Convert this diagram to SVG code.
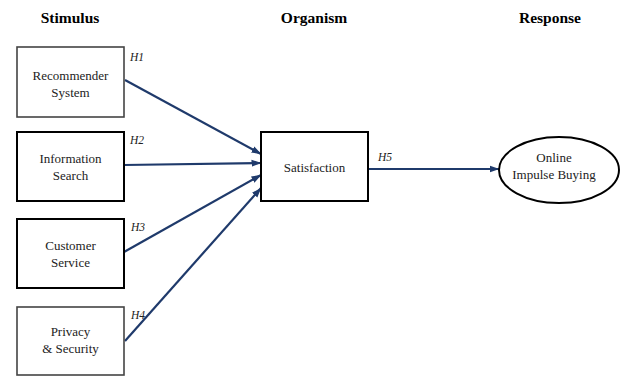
<svg xmlns="http://www.w3.org/2000/svg" width="622" height="376" viewBox="0 0 622 376">
<style>
.hdr{font-family:"Liberation Serif","Times New Roman",serif;font-weight:bold;font-size:15.5px;fill:#000;text-anchor:middle}
.lbl{font-family:"Liberation Serif","Times New Roman",serif;font-size:13px;fill:#222;text-anchor:middle}
.h{font-family:"Liberation Serif","Times New Roman",serif;font-style:italic;font-size:11.5px;fill:#222}
.box{fill:#fff;stroke:#000;stroke-width:2}
.boxg{fill:#fff;stroke:#444;stroke-width:1.6}
.arr{fill:none;stroke:#1f3a6b;stroke-width:2.2;marker-end:url(#ah)}
</style>
<defs>
<marker id="ah" markerUnits="userSpaceOnUse" markerWidth="10" markerHeight="10" viewBox="0 0 10 10" refX="9.5" refY="5" orient="auto">
<path d="M0,1.5 L10,5 L0,8.5 Z" fill="#1f3a6b"/>
</marker>
</defs>
<g id="headers">
<text class="hdr" x="70" y="23">Stimulus</text>
<text class="hdr" x="314" y="23">Organism</text>
<text class="hdr" x="550" y="23">Response</text>
</g>
<g id="connectors">
<line class="arr" x1="125" y1="80" x2="261" y2="154"/>
<line class="arr" x1="124" y1="165" x2="261" y2="163"/>
<line class="arr" x1="124" y1="252" x2="261" y2="175"/>
<line class="arr" x1="125" y1="341" x2="261" y2="188"/>
<line class="arr" x1="368" y1="169" x2="499" y2="169"/>
<text class="h" x="130" y="61">H1</text>
<text class="h" x="130" y="144">H2</text>
<text class="h" x="131" y="231">H3</text>
<text class="h" x="131" y="319">H4</text>
<text class="h" x="378" y="161">H5</text>
</g>
<g id="n1">
<rect class="boxg" x="17" y="47" width="107" height="70"/>
<text class="lbl" x="70.5" y="80">Recommender</text>
<text class="lbl" x="70.5" y="97">System</text>
</g>
<g id="n2">
<rect class="box" x="17" y="132" width="107" height="69"/>
<text class="lbl" x="70.5" y="163">Information</text>
<text class="lbl" x="70.5" y="180">Search</text>
</g>
<g id="n3">
<rect class="box" x="17" y="219" width="107" height="69"/>
<text class="lbl" x="70.5" y="250">Customer</text>
<text class="lbl" x="70.5" y="267">Service</text>
</g>
<g id="n4">
<rect class="boxg" x="17" y="307" width="107" height="68"/>
<text class="lbl" x="70.5" y="336">Privacy</text>
<text class="lbl" x="70.5" y="353">&amp; Security</text>
</g>
<g id="n5">
<rect class="box" x="261" y="132" width="107" height="69"/>
<text class="lbl" x="314.5" y="172">Satisfaction</text>
</g>
<g id="n6">
<ellipse class="box" cx="559" cy="170" rx="60" ry="33"/>
<text class="lbl" x="554" y="162">Online</text>
<text class="lbl" x="554" y="179">Impulse Buying</text>
</g>
</svg>
